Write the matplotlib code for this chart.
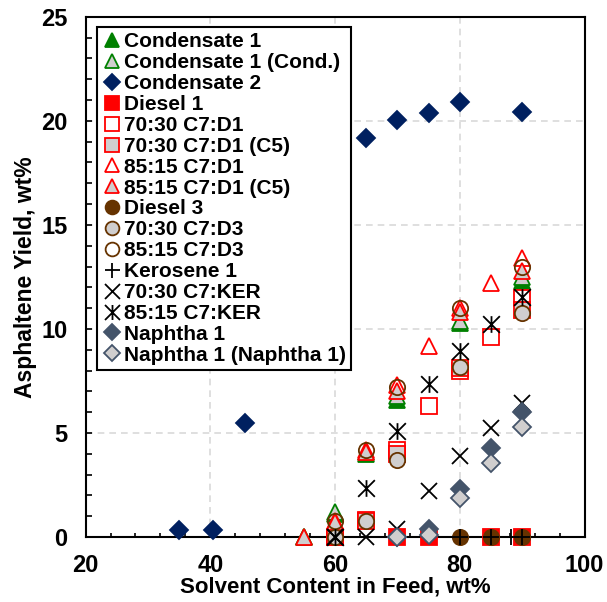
import numpy as np
import matplotlib
matplotlib.use("Agg")
from matplotlib import pyplot as plt
from matplotlib.path import Path
from matplotlib.ticker import MultipleLocator

# ---------------- data (solvent wt% , asphaltene yield wt%) ----------------
cond1_x = [55, 60, 65, 70, 80, 90]
cond1_y = [0.0, 1.1, 4.0, 6.6, 10.3, 12.3]

cond1c_x = [55, 60, 65, 70, 80, 90]
cond1c_y = [0.0, 1.2, 4.1, 6.8, 10.4, 12.5]

cond2_x = [35, 40.5, 45.5, 65, 70, 75, 80, 90]
cond2_y = [0.35, 0.35, 5.5, 19.2, 20.05, 20.4, 20.9, 20.45]

dsl1_x = [60, 70, 75, 85, 90]
dsl1_y = [0, 0, 0, 0, 0]

d1_7030_x = [60, 65, 70, 75, 80, 85, 90]
d1_7030_y = [0.0, 0.8, 4.2, 6.3, 8.0, 9.6, 11.5]

d1_7030c5_x = [60, 65, 70, 80, 90]
d1_7030c5_y = [0.0, 0.75, 4.0, 8.1, 10.9]

d1_8515_x = [60, 65, 70, 75, 80, 85, 90]
d1_8515_y = [0.75, 4.2, 7.3, 9.2, 11.0, 12.2, 13.4]

d1_8515c5_x = [55, 60, 65, 70, 80, 90]
d1_8515c5_y = [0.0, 0.7, 4.1, 7.0, 10.8, 12.8]

dsl3_x = [80, 85, 90]
dsl3_y = [0, 0, 0]

d3_7030_x = [60, 65, 70, 80, 90]
d3_7030_y = [0.0, 0.75, 3.7, 8.15, 10.75]

d3_8515_x = [60, 65, 70, 80, 90]
d3_8515_y = [0.75, 4.2, 7.2, 11.0, 13.0]

ker_x = [80, 85, 88.2, 90]
ker_y = [0, 0, 0, 0]

ker_7030_x = [60, 65, 70, 75, 80, 85, 90]
ker_7030_y = [0.0, 0.0, 0.4, 2.2, 3.9, 5.25, 6.45]

ker_8515_x = [60, 65, 70, 75, 80, 85, 90]
ker_8515_y = [0.0, 2.35, 5.1, 7.35, 8.95, 10.25, 11.55]

nap_x = [70, 75, 80, 85, 90]
nap_y = [0.0, 0.4, 2.3, 4.3, 6.0]

napn_x = [70, 75, 80, 85, 90]
napn_y = [0.0, 0.1, 1.85, 3.55, 5.3]

labels = [
    "Condensate 1", "Condensate 1 (Cond.)", "Condensate 2", "Diesel 1",
    "70:30 C7:D1", "70:30 C7:D1 (C5)", "85:15 C7:D1", "85:15 C7:D1 (C5)",
    "Diesel 3", "70:30 C7:D3", "85:15 C7:D3", "Kerosene 1",
    "70:30 C7:KER", "85:15 C7:KER", "Naphtha 1", "Naphtha 1 (Naphtha 1)",
]
xs = [cond1_x, cond1c_x, cond2_x, dsl1_x, d1_7030_x, d1_7030c5_x, d1_8515_x,
      d1_8515c5_x, dsl3_x, d3_7030_x, d3_8515_x, ker_x, ker_7030_x,
      ker_8515_x, nap_x, napn_x]
ys = [cond1_y, cond1c_y, cond2_y, dsl1_y, d1_7030_y, d1_7030c5_y, d1_8515_y,
      d1_8515c5_y, dsl3_y, d3_7030_y, d3_8515_y, ker_y, ker_7030_y,
      ker_8515_y, nap_y, napn_y]

# excel-like asterisk: x plus vertical bar
ast = Path([(0, -0.5), (0, 0.5), (-0.5, -0.5), (0.5, 0.5), (-0.5, 0.5), (0.5, -0.5)],
           [Path.MOVETO, Path.LINETO] * 3)

green = "#008000"
navy = "#002060"
red = "#FF0000"
brown = "#663300"
gray = "#D0CECE"
slate = "#44546A"

# marker, size, face, edge
styles = [
    ("^", 11, green, green),
    ("^", 11, gray, green),
    ("D", 9.5, navy, navy),
    ("s", 11, red, red),
    ("s", 11, "none", red),
    ("s", 11, gray, red),
    ("^", 11, "none", red),
    ("^", 11, gray, red),
    ("o", 11, brown, brown),
    ("o", 11, gray, brown),
    ("o", 11, "none", brown),
    ("+", 12, "none", "black"),
    ("x", 12, "none", "black"),
    (ast, 12, "none", "black"),
    ("D", 9.5, slate, slate),
    ("D", 9.5, gray, slate),
]

plt.rcParams["font.family"] = ["Liberation Sans", "DejaVu Sans"]
plt.rcParams["font.weight"] = "bold"

fig = plt.figure(figsize=(6.07, 6.02), dpi=100)
ax = fig.add_axes([0.141, 0.108, 0.822, 0.864])

for i in range(len(labels)):
    m, ms, fc, ec = styles[i]
    ax.plot(xs[i], ys[i], linestyle="none", marker=m, markersize=ms,
            markerfacecolor=fc, markeredgecolor=ec, markeredgewidth=1.3,
            label=labels[i], clip_on=False, zorder=3 + i)

ax.set_xlim(20, 100)
ax.set_ylim(0, 25)
ax.xaxis.set_major_locator(MultipleLocator(20))
ax.xaxis.set_minor_locator(MultipleLocator(4))
ax.yaxis.set_major_locator(MultipleLocator(5))
ax.yaxis.set_minor_locator(MultipleLocator(1))
ax.grid(True, which="major", color="#D9D9D9", linestyle=(0, (4, 3)), linewidth=1.2)
ax.set_axisbelow(True)

ax.tick_params(axis="x", which="both", direction="in", length=3, width=1.2,
               labelsize=17, pad=12)
ax.tick_params(axis="y", which="both", direction="in", length=4.5, width=1.2,
               labelsize=17, pad=13)
for lab in ax.get_xticklabels() + ax.get_yticklabels():
    lab.set_fontweight("bold")
for s in ax.spines.values():
    s.set_linewidth(1.5)

ax.set_xlabel("Solvent Content in Feed, wt%", fontsize=16, fontweight="bold", labelpad=0)
ax.set_ylabel("Asphaltene Yield, wt%", fontsize=16.5, fontweight="bold", labelpad=3)

leg = ax.legend(loc="upper left", bbox_to_anchor=(0.023, 0.98),
                prop={"weight": "bold", "size": 15}, handlelength=0.9,
                handletextpad=0.15, labelspacing=0.09, borderpad=0.25,
                borderaxespad=0, fancybox=False, framealpha=1, edgecolor="black",
                markerscale=0.9)
leg.get_frame().set_linewidth(1.5)
leg.set_zorder(30)

fig.savefig("out.png", dpi=100)
